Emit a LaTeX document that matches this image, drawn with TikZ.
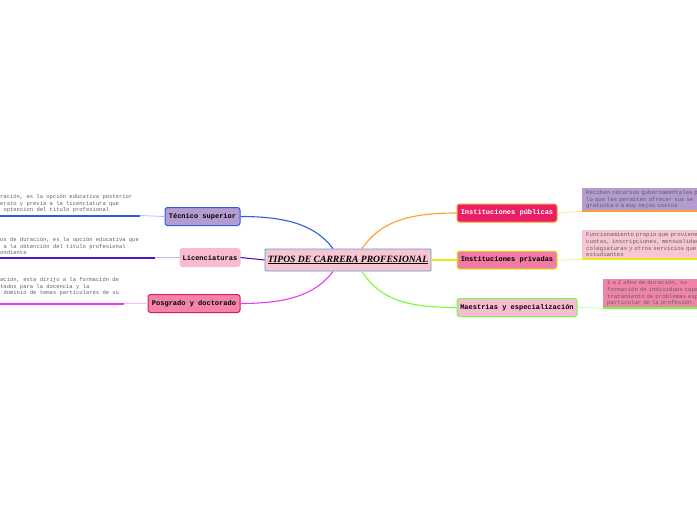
\documentclass[tikz,border=0pt]{standalone}
\usepackage{fontspec}
\setmonofont{Liberation Mono}
\newfontfamily\titlefont{Liberation Serif}
\usepackage{tikz}

\definecolor{cenfill}{HTML}{F8C6D2}
\definecolor{cenline}{HTML}{5B9BD5}
\definecolor{tecfill}{HTML}{B49BD0}
\definecolor{tecline}{HTML}{2F5BEA}
\definecolor{licfill}{HTML}{F8BBD0}
\definecolor{licline}{HTML}{4B14D0}
\definecolor{posfill}{HTML}{F284AB}
\definecolor{posline}{HTML}{E53CF0}
\definecolor{posdraw}{HTML}{D81B60}
\definecolor{pubfill}{HTML}{E91E63}
\definecolor{publine}{HTML}{FFA02A}
\definecolor{prifill}{HTML}{F27BA5}
\definecolor{priline}{HTML}{E3EE10}
\definecolor{maefill}{HTML}{F8BBD0}
\definecolor{maeline}{HTML}{6CFF3A}
\definecolor{notegrey}{HTML}{606060}

\begin{document}
\begin{tikzpicture}[x=1pt, y=-1pt,
    topic/.style={draw, rounded corners=2.5pt, line width=1pt, inner sep=0pt,
      minimum height=18pt, font=\ttfamily\bfseries\fontsize{7}{8}\selectfont},
    note/.style={align=left, inner sep=0pt, text=notegrey,
      font=\ttfamily\fontsize{5.5}{6.6}\selectfont},
    notebox/.style={note, anchor=north west, inner xsep=4pt, inner ysep=2pt,
      font=\ttfamily\fontsize{5.7}{6.6}\selectfont},
    con/.style={line width=1.1pt},
    lead/.style={line width=0.8pt},
    under/.style={line width=2pt}]
    \useasboundingbox (0,0) rectangle (697,520);

    % centre
    \node[draw=cenline, fill=cenfill, line width=0.9pt, rounded corners=1pt,
      minimum width=166pt, minimum height=22pt, inner sep=0pt] (cen) at (348,260)
      {\titlefont\bfseries\itshape\fontsize{9.6}{11}\selectfont\underline{TIPOS DE CARRERA PROFESIONAL}};

    % left branches
    \node[topic, draw=tecline, fill=tecfill, minimum width=75pt] (tec) at (202.5,216.5) {Técnico superior};
    \node[topic, draw=licfill, fill=licfill, minimum width=60pt] (lic) at (210,257.5) {Licenciaturas};
    \node[topic, draw=posdraw, fill=posfill, minimum width=92pt] (pos) at (194,303.5) {Posgrado y doctorado};

    % right branches
    \node[topic, draw=publine, fill=pubfill, text=white, minimum width=100pt] (pub) at (507,213) {Instituciones públicas};
    \node[topic, draw=priline, fill=prifill, minimum width=100pt] (pri) at (507,260) {Instituciones privadas};
    \node[topic, draw=maeline, fill=maefill, minimum width=120pt] (mae) at (517,307.5) {Maestrias y especialización};

    \draw[con, tecline] ([xshift=-15pt]cen.north) .. controls +(-18,-24) and +(45,0) .. (tec.east);
    \draw[con, licline] (cen.west) -- (lic.east);
    \draw[con, posline] ([xshift=-15pt]cen.south) .. controls +(-18,24) and +(45,0) .. (pos.east);
    \draw[con, publine] ([xshift=14pt]cen.north) .. controls +(18,-26) and +(-50,0) .. (pub.west);
    \draw[con, priline] (cen.east) -- (pri.west);
    \draw[con, maeline] ([xshift=14pt]cen.south) .. controls +(18,28) and +(-50,0) .. (mae.west);

    % left notes
    \coordinate (tecn) at (140,215.5);
    \coordinate (licn) at (155,257.5);
    \coordinate (posn) at (124,303.5);
    \draw[lead, tecline!40] (tec.west) -- (tecn);
    \draw[under, draw=tecline] (tecn) -- (0,215.5);
    \draw[lead, licline!30] (lic.west) -- (licn);
    \draw[under, draw=licline] (licn) -- (0,257.5);
    \draw[lead, posline!35] (pos.west) -- (posn);
    \draw[under, draw=posline] (posn) -- (0,303.5);

    \node[note, anchor=south west] (tecnote) at (0,213)
      {ración, es la opción educativa posterior\\erato y previa a la licenciatura que\\\phantom{x}optencion del titulo profesional};
    \node[note, anchor=south west] (licnote) at (0,255)
      {os de duración, es la opción educativa que\\\phantom{x}a la obtención del título profesional\\ondiente};
    \node[note, anchor=south west] (posnote) at (0,296)
      {ación, esta dirijo a la formación de\\tados para la docencia y la\\\phantom{x}dominio de temas particulares de su};

    % right notes
    \node[notebox, fill=tecfill, text width=140pt, minimum height=23pt] (pubnote) at (582,188)
      {Reciben recursos gubernamentales p\\lo que les permiten ofrecer sus se\\gratuita o a muy bajos costos};
    \node[notebox, fill=cenfill, text width=140pt, minimum height=29pt] (prinote) at (582,230)
      {Funcionamiento propio que proviene\\cuotas, inscripciones, mensualidad\\colegiaturas y otros servicios que\\estudiantes};
    \node[notebox, fill=posfill, text width=120pt, minimum height=28pt] (maenote) at (603,278.5)
      {1 a 2 años de duración, su\\formación de individuos capa\\tratamiento de problemas esp\\particular de la profesión.};

    \draw[lead, publine!35] (pub.east) -- (pubnote.south west);
    \draw[under, draw=publine] (pubnote.south west) -- (pubnote.south east);
    \draw[lead, priline!50] (pri.east) -- (prinote.south west);
    \draw[under, draw=priline] (prinote.south west) -- (prinote.south east);
    \draw[lead, maeline!45] (mae.east) -- (maenote.south west);
    \draw[under, draw=maeline] (maenote.south west) -- (maenote.south east);
\end{tikzpicture}
\end{document}
